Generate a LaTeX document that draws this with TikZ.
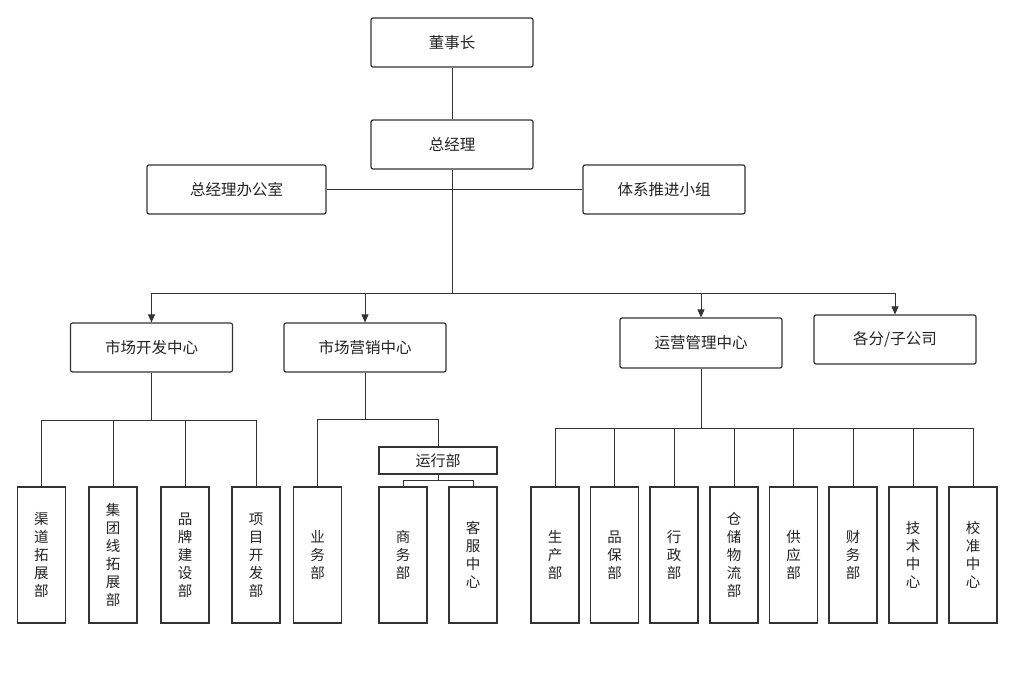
\documentclass[tikz,border=0pt]{standalone}
\usepackage{fontspec}
\setmainfont{Noto Sans CJK SC}
\usetikzlibrary{arrows.meta}
\definecolor{edge}{HTML}{333333}
\definecolor{txt}{HTML}{222222}
\begin{document}
\begin{tikzpicture}[x=1pt,y=-1pt,
  topbox/.style={draw=edge,line width=1.2pt,rounded corners=2pt,inner sep=0pt,
    minimum width=162pt,minimum height=49pt,text=txt,font=\fontsize{15.5}{18}\selectfont},
  runbox/.style={draw=edge,line width=1.2pt,inner sep=0pt,
    minimum width=118pt,minimum height=27pt,text=txt,font=\fontsize{15}{18}\selectfont},
  vbox/.style={draw=edge,line width=1.2pt,inner sep=0pt,align=center,
    minimum width=48pt,minimum height=136pt,text=txt,font=\fontsize{14.5}{18}\selectfont},
  conn/.style={draw=edge,line width=0.9pt},
  arr/.style={conn,-{Triangle[length=8pt,width=7pt]}}]
\useasboundingbox (0,0) rectangle (1015,692);

% top
\node[topbox] (ds) at (452,42.5) {董事长};
\node[topbox] (zjl) at (452,144.5) {总经理};
\node[topbox,minimum width=179pt] (office) at (236.5,189.5) {总经理办公室};
\node[topbox] (tixi) at (664,189.5) {体系推进小组};

% centres
\node[topbox] (sckf) at (151.5,347.5) {市场开发中心};
\node[topbox] (scyx) at (365,347.5) {市场营销中心};
\node[topbox,minimum height=50pt] (yygl) at (701,343) {运营管理中心};
\node[topbox] (gfz) at (895,339.5) {各分/子公司};

\draw[conn] (ds) -- (zjl);
\draw[conn] (office) -- (tixi);

\coordinate (bus) at (452,293);
\draw[conn] (zjl.south) -- (bus);
\draw[conn] (sckf.north |- bus) -- (gfz.north |- bus);
\draw[arr] (sckf.north |- bus) -- (sckf.north);
\draw[arr] (scyx.north |- bus) -- (scyx.north);
\draw[arr] (yygl.north |- bus) -- (yygl.north);
\draw[arr] (gfz.north |- bus) -- (gfz.north);

% market development children
\node[vbox] (a1) at (41.5,555) {渠\\道\\拓\\展\\部};
\node[vbox] (a2) at (113,555) {集\\团\\线\\拓\\展\\部};
\node[vbox] (a3) at (185,555) {品\\牌\\建\\设\\部};
\node[vbox] (a4) at (256,555) {项\\目\\开\\发\\部};
\coordinate (abus) at (151.5,420);
\draw[conn] (sckf.south) -- (abus);
\draw[conn] (a1.north |- abus) -- (a4.north |- abus);
\foreach \n in {a1,a2,a3,a4}{\draw[conn] (\n.north |- abus) -- (\n.north);}

% marketing children
\node[vbox] (b1) at (317.5,555) {业\\务\\部};
\node[runbox] (yxb) at (438,460.5) {运行部};
\node[vbox] (b2) at (403,555) {商\\务\\部};
\node[vbox] (b3) at (473,555) {客\\服\\中\\心};
\coordinate (bbus) at (365,419);
\draw[conn] (scyx.south) -- (bbus);
\draw[conn] (b1.north |- bbus) -- (yxb.north |- bbus);
\draw[conn] (b1.north |- bbus) -- (b1.north);
\draw[conn] (yxb.north |- bbus) -- (yxb.north);
\coordinate (rbus) at (438,480);
\draw[conn] (yxb.south) -- (rbus);
\draw[conn] (b2.north |- rbus) -- (b3.north |- rbus);
\draw[conn] (b2.north |- rbus) -- (b2.north);
\draw[conn] (b3.north |- rbus) -- (b3.north);

% operations children
\node[vbox] (c1) at (555,555) {生\\产\\部};
\node[vbox] (c2) at (614.5,555) {品\\保\\部};
\node[vbox] (c3) at (674,555) {行\\政\\部};
\node[vbox] (c4) at (734,555) {仓\\储\\物\\流\\部};
\node[vbox] (c5) at (793.5,555) {供\\应\\部};
\node[vbox] (c6) at (853,555) {财\\务\\部};
\node[vbox] (c7) at (913,555) {技\\术\\中\\心};
\node[vbox] (c8) at (973,555) {校\\准\\中\\心};
\coordinate (cbus) at (701,428);
\draw[conn] (yygl.south) -- (cbus);
\draw[conn] (c1.north |- cbus) -- (c8.north |- cbus);
\foreach \n in {c1,c2,c3,c4,c5,c6,c7,c8}{\draw[conn] (\n.north |- cbus) -- (\n.north);}
\end{tikzpicture}
\end{document}
